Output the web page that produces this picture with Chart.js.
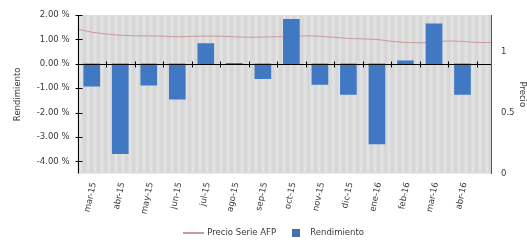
<!DOCTYPE html>
<html>
<head>
<meta charset="utf-8">
<script src="https://cdn.jsdelivr.net/npm/chart.js@4"></script>
<style>
  html, body { margin: 0; padding: 0; background: #fff; }
  #wrap { width: 527px; height: 247px; }
</style>
</head>
<body>
<div id="wrap"><canvas id="chart"></canvas></div>
<script>
// data
const months = ['mar-15', 'abr-15', 'may-15', 'jun-15', 'jul-15', 'ago-15', 'sep-15',
    'oct-15', 'nov-15', 'dic-15', 'ene-16', 'feb-16', 'mar-16', 'abr-16'];
const monthPos = [0, 1, 2, 3, 4, 5, 6, 7, 8, 9, 10, 11, 12, 13];
const rendimiento = [-0.92, -3.69, -0.88, -1.45, 0.83, 0.02, -0.61, 1.83, -0.84, -1.26,
    -3.29, 0.12, 1.64, -1.25];

const precioPos = [-0.5, 0, 0.5, 1, 1.5, 2, 2.5, 3, 3.5, 4, 4.5, 5, 5.5, 6, 6.5, 7, 7.5,
    8, 8.5, 9, 9.5, 10, 10.5, 11, 11.5, 12, 12.5, 13, 13.5, 14];
const precio = [1.185, 1.16, 1.145, 1.135, 1.13, 1.13, 1.127, 1.122, 1.125, 1.128, 1.127,
    1.122, 1.118, 1.12, 1.122, 1.127, 1.13, 1.126, 1.118, 1.108, 1.105, 1.10, 1.085, 1.075,
    1.073, 1.078, 1.088, 1.084, 1.075, 1.075];

const leftTicks = [-4, -3, -2, -1, 0, 1, 2];
const rightTicks = [0, 0.5, 1];

const FONT = 'DejaVu Sans';
const FSIZE = 8.5;
const TXT = '#3a3a3a';

//legend swatches
function swatch(w, h, color) {
    const c = document.createElement('canvas');
    c.width = w;
    c.height = h;
    const cx = c.getContext('2d');
    cx.fillStyle = color;
    cx.fillRect(0, 0, w, h);
    return c;
}

//background + axes drawn by hand
const chartDecor = {
    id: 'chartDecor',
    afterLayout(chart) {
        //legend sits a bit right of the canvas centre
        chart.legend.left += 20;
    },
    beforeDraw(chart) {
        const {ctx, chartArea: a} = chart;
        ctx.save();
        ctx.fillStyle = '#d7d7d7';
        ctx.fillRect(a.left, a.top, a.right - a.left, a.bottom - a.top);
        ctx.fillStyle = '#e2e2e2';
        for (let x = a.left + 2; x < a.right; x += 7) {
            ctx.fillRect(x, a.top, 3, a.bottom - a.top);
        }
        ctx.restore();
    },
    afterDatasetsDraw(chart) {
        const {ctx, chartArea: a, scales} = chart;
        const y0 = Math.round(scales.y.getPixelForValue(0)) + 0.5;
        ctx.save();
        ctx.strokeStyle = '#000';
        ctx.lineWidth = 1;
        ctx.beginPath();
        //zero line
        ctx.moveTo(a.left, y0);
        ctx.lineTo(a.right, y0);
        monthPos.forEach(p => {
            const x = Math.round(scales.x.getPixelForValue(p + 0.5)) + 0.5;
            ctx.moveTo(x, y0 - 3);
            ctx.lineTo(x, y0 + 3);
        });
        //left axis
        const lx = Math.round(a.left) + 0.5;
        ctx.moveTo(lx, a.top);
        ctx.lineTo(lx, a.bottom);
        leftTicks.forEach(v => {
            const y = Math.round(scales.y.getPixelForValue(v)) + 0.5;
            ctx.moveTo(lx - 3, y);
            ctx.lineTo(lx + 4, y);
        });
        ctx.stroke();
        ctx.restore();
    },
    afterDraw(chart) {
        const {ctx, chartArea: a, scales} = chart;
        ctx.save();
        ctx.fillStyle = TXT;
        ctx.font = FSIZE + 'px "' + FONT + '"';
        ctx.textAlign = 'right';
        ctx.textBaseline = 'middle';
        months.forEach((m, i) => {
            const x = scales.x.getPixelForValue(monthPos[i]);
            ctx.save();
            ctx.translate(x + 2, a.bottom + 9);
            ctx.rotate(-78 * Math.PI / 180);
            ctx.fillText(m, 0, 0);
            ctx.restore();
        });
        ctx.restore();
    }
};

const ctx = document.getElementById('chart');

new Chart(ctx, {
    data: {
        datasets: [{
            type: 'line',
            label: 'Precio Serie AFP',
            data: precioPos.map((p, i) => ({x: p, y: precio[i]})),
            yAxisID: 'y2',
            borderColor: '#c99b9b',
            backgroundColor: '#c99b9b',
            borderWidth: 1,
            pointRadius: 0,
            tension: 0,
            order: 2,
            pointStyle: swatch(21, 2, '#c99b9b')
        }, {
            type: 'bar',
            label: 'Rendimiento',
            data: monthPos.map((p, i) => ({x: p, y: rendimiento[i]})),
            yAxisID: 'y',
            backgroundColor: '#4178c4',
            borderWidth: 0,
            barThickness: 16,
            order: 1,
            pointStyle: swatch(8, 8, '#4a6fa8')
        }]
    },
    options: {
        responsive: true,
        maintainAspectRatio: false,
        animation: false,
        layout: { padding: { top: 11, left: 0, right: 0, bottom: 0 } },
        plugins: {
            tooltip: { enabled: false },
            legend: {
                position: 'bottom',
                labels: {
                    usePointStyle: true,
                    pointStyleWidth: 20,
                    boxHeight: 8,
                    padding: 10,
                    color: TXT,
                    font: { family: FONT, size: FSIZE },
                    sort: (a, b) => a.datasetIndex - b.datasetIndex
                }
            }
        },
        scales: {
            x: {
                type: 'linear',
                min: -0.5,
                max: 14,
                offset: false,
                grid: { display: false, drawTicks: false },
                border: { display: false },
                ticks: { display: false },
                afterFit: (scale) => { scale.height = 45; }
            },
            y: {
                position: 'left',
                min: -4.5,
                max: 2,
                grid: { display: false, drawTicks: false },
                border: { display: false },
                afterBuildTicks: (scale) => { scale.ticks = leftTicks.map(v => ({value: v})); },
                afterFit: (scale) => { scale.width = 77.5; },
                ticks: {
                    padding: 8,
                    color: TXT,
                    font: { family: FONT, size: FSIZE },
                    callback: (v) => v.toFixed(2) + ' %'
                },
                title: {
                    display: true,
                    text: 'Rendimiento',
                    color: TXT,
                    padding: { top: 13, bottom: 0 },
                    font: { family: FONT, size: FSIZE }
                }
            },
            y2: {
                position: 'right',
                min: 0,
                max: 1.3,
                grid: { display: false, drawTicks: false },
                border: { display: true, color: '#555' },
                afterBuildTicks: (scale) => { scale.ticks = rightTicks.map(v => ({value: v})); },
                afterFit: (scale) => { scale.width = 36; },
                ticks: {
                    padding: 10,
                    color: TXT,
                    font: { family: FONT, size: FSIZE },
                    callback: (v) => String(v)
                },
                title: {
                    display: true,
                    text: 'Precio',
                    color: TXT,
                    padding: { top: 0, bottom: 0 },
                    font: { family: FONT, size: FSIZE }
                }
            }
        }
    },
    plugins: [chartDecor]
});
</script>
</body>
</html>
